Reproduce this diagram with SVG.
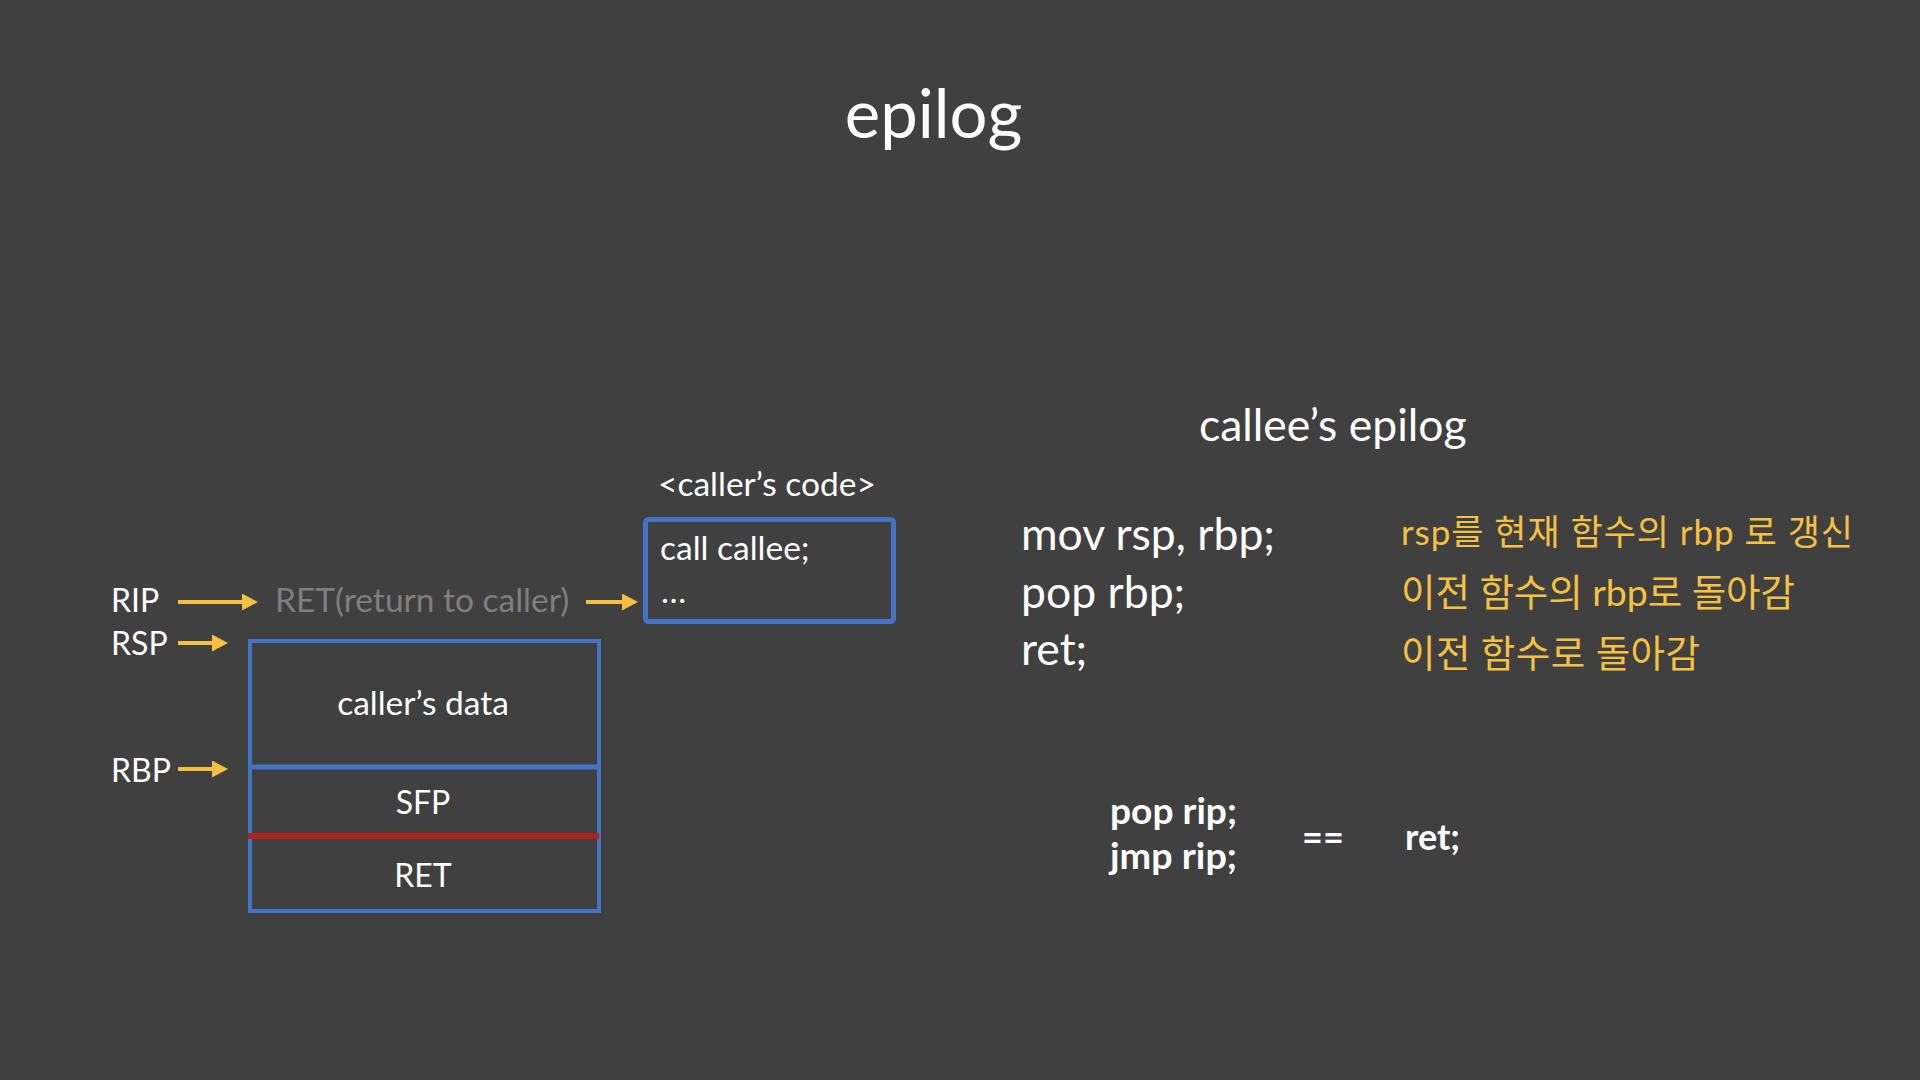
<svg xmlns="http://www.w3.org/2000/svg" width="1920" height="1080" viewBox="0 0 1920 1080">
<style>
.t{font-family:Lato,"Noto Sans","Noto Sans CJK KR",sans-serif;fill:#FFFFFF}
.s32{font-size:32px}
.s33{font-size:33.5px}
.s44{font-size:44.5px}
.grey{fill:#7F7F7F}
.kr{font-family:Lato,"Noto Sans CJK KR",sans-serif;fill:#F5C142}
.b{font-weight:bold;font-size:36px}
.box{fill:none;stroke:#4472C4;stroke-width:4}
.arrow{stroke:#F5BF42;stroke-width:4;fill:none;marker-end:url(#ah)}
</style>
<defs>
<marker id="ah" markerUnits="userSpaceOnUse" markerWidth="16" markerHeight="17" refX="1" refY="8.5" orient="auto">
<path d="M0,0 L16,8.5 L0,17 Z" fill="#F5BF42"/>
</marker>
</defs>
<rect width="1920" height="1080" fill="#404040"/>
<g id="title"><text class="t" x="933.5" y="138" font-size="67" text-anchor="middle">epilog</text></g>
<g id="rip"><text class="t s32" x="111" y="612">RIP</text></g>
<g id="rsp"><text class="t s32" x="111" y="655">RSP</text></g>
<g id="rbp"><text class="t s32" x="111" y="782">RBP</text></g>
<g id="ret-target"><text class="t s33 grey" x="275" y="612">RET(return to caller)</text></g>
<g id="caller-code">
<text class="t s33" x="658" y="496">&lt;caller’s code&gt;</text>
<rect x="645.5" y="519.5" width="248" height="102" rx="3" fill="none" stroke="#4472C4" stroke-width="5"/>
<text class="t s33" x="660" y="560">call callee;</text>
<text class="t s33" x="661" y="603">…</text>
</g>
<g id="stack">
<rect class="box" x="250" y="641" width="349" height="270"/>
<line x1="250" y1="767" x2="599" y2="767" stroke="#4472C4" stroke-width="5"/>
<line x1="248" y1="836" x2="599" y2="836" stroke="#B0231A" stroke-width="6"/>
<text class="t s33" x="423" y="715" text-anchor="middle">caller’s data</text>
<text class="t s32" x="423" y="814" text-anchor="middle">SFP</text>
<text class="t s32" x="423" y="887" text-anchor="middle">RET</text>
</g>
<g id="callee-epilog">
<text class="t s44" x="1199" y="441">callee’s epilog</text>
<text class="t s44" x="1021" y="550">mov rsp, rbp;</text>
<text class="t s44" x="1021" y="608">pop rbp;</text>
<text class="t s44" x="1021" y="665">ret;</text>
</g>
<g id="comments">
<text class="kr" x="1401" y="545" font-size="35" textLength="452" lengthAdjust="spacing">rsp를 현재 함수의 rbp 로 갱신</text>
<text class="kr" x="1401" y="606" font-size="37.5" textLength="394" lengthAdjust="spacing">이전 함수의 rbp로 돌아감</text>
<text class="kr" x="1401" y="667" font-size="37.5" textLength="299" lengthAdjust="spacing">이전 함수로 돌아감</text>
</g>
<g id="equivalence">
<text class="t b" x="1110" y="824" textLength="127" lengthAdjust="spacingAndGlyphs">pop rip;</text>
<text class="t b" x="1110" y="869" textLength="127" lengthAdjust="spacingAndGlyphs">jmp rip;</text>
<text class="t b" x="1302" y="850">==</text>
<text class="t b" x="1405" y="850">ret;</text>
</g>
<g id="connectors">
<line class="arrow" x1="178" y1="602" x2="243" y2="602"/>
<line class="arrow" x1="586" y1="602" x2="623" y2="602"/>
<line class="arrow" x1="178" y1="643" x2="213" y2="643"/>
<line class="arrow" x1="178" y1="769" x2="213" y2="769"/>
</g>
</svg>
